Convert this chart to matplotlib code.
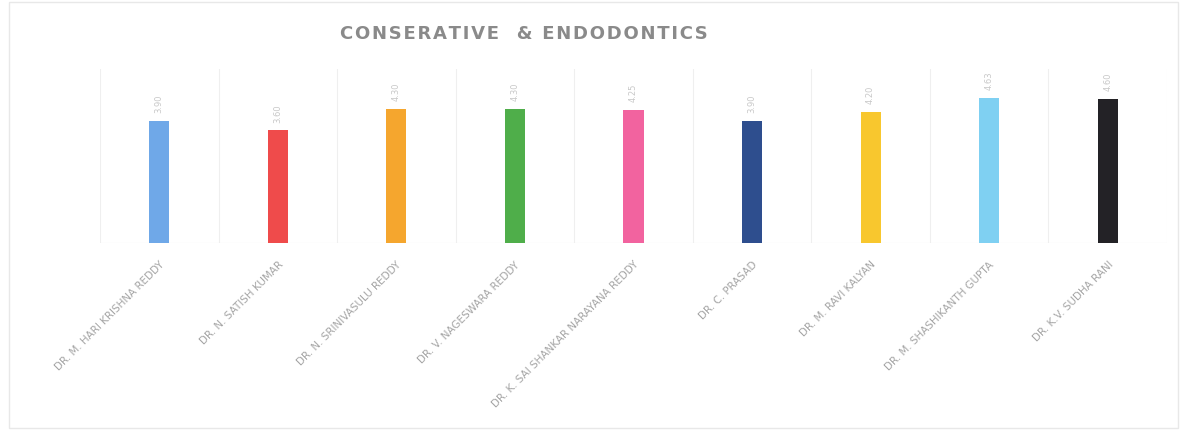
import matplotlib
matplotlib.use("Agg")
import matplotlib.pyplot as plt
from matplotlib.patches import Rectangle
import numpy as np

# -----------------------------
# Data
# -----------------------------
title = "CONSERATIVE  & ENDODONTICS"
doctors = [
    "DR. M. HARI KRISHNA REDDY",
    "DR. N. SATISH KUMAR",
    "DR. N. SRINIVASULU REDDY",
    "DR. V. NAGESWARA REDDY",
    "DR. K. SAI SHANKAR NARAYANA REDDY",
    "DR. C. PRASAD",
    "DR. M. RAVI KALYAN",
    "DR. M. SHASHIKANTH GUPTA",
    "DR. K.V. SUDHA RANI",
]
scores = [3.9, 3.6, 4.3, 4.3, 4.25, 3.9, 4.2, 4.63, 4.6]
colors = ["#6fa8e8", "#ef4b4b", "#f5a62e", "#4fae4a", "#f2639f",
          "#2e4e8e", "#f8c72e", "#7fd0f2", "#232226"]

# -----------------------------
# Figure
# -----------------------------
fig = plt.figure(figsize=(11.86, 4.32), dpi=100)
ax = fig.add_axes([0.0843, 0.4375, 0.8997, 0.4025])

x = np.arange(len(doctors))
ax.bar(x, scores, width=0.17, color=colors, zorder=3)

for xi, v in zip(x, scores):
    ax.text(xi, v + 0.25, f"{v:.2f}", rotation=90, ha="center", va="bottom",
            fontsize=6, color="#c8c8c8")

ax.set_xlim(-0.5, len(doctors) - 0.5)
ax.set_ylim(0, 5.56)
ax.set_yticks([])
ax.set_xticks(x)
ax.set_xticklabels(doctors, rotation=45, ha="right", rotation_mode="anchor",
                   fontsize=7.5, color="#a5a5a5")
ax.tick_params(axis="x", length=0, pad=12)

# light separators between categories
for b in np.arange(-0.5, len(doctors), 1.0):
    ax.axvline(b, color="#efefef", linewidth=0.8, zorder=1)
ax.axhline(0, color="#e6e6e6", linewidth=0.8, zorder=2)

for s in ax.spines.values():
    s.set_visible(False)

# slightly letter-spaced title
spaced = "\u200a".join(title)
fig.text(0.442, 0.922, spaced, ha="center", va="center",
         fontsize=13, fontweight="bold", color="#8a8a8a")

# faint outer frame
fig.patches.append(Rectangle((0.008, 0.01), 0.985, 0.985, transform=fig.transFigure,
                             fill=False, edgecolor="#e8e8e8", linewidth=1))

fig.savefig("out.png", dpi=100)
